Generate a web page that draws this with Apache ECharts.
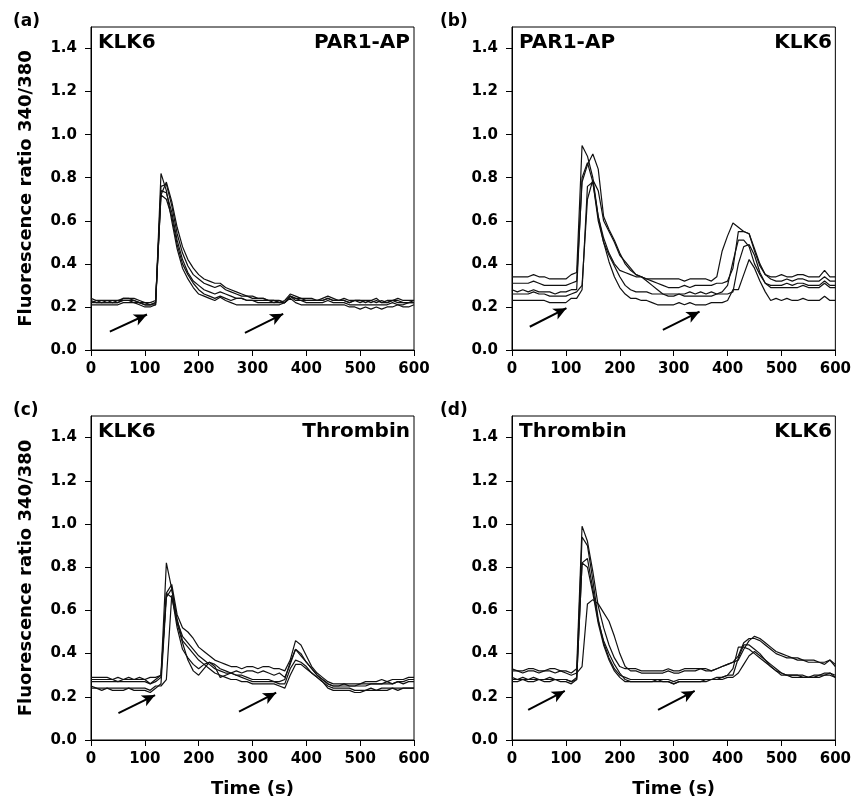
<!DOCTYPE html>
<html>
<head>
<meta charset="utf-8">
<script src="https://cdn.jsdelivr.net/npm/echarts@6/dist/echarts.min.js"></script>
<style>
html,body{margin:0;padding:0;background:#fff;}
#chart{width:854px;height:802px;}
</style>
</head>
<body>
<div id="chart"></div>
<script>
// sampling times (s), one reading every 10 s
var time = [0,10,20,30,40,50,60,70,80,90,
            100,110,120,130,140,150,160,170,180,190,
            200,210,220,230,240,250,260,270,280,290,
            300,310,320,330,340,350,360,370,380,390,
            400,410,420,430,440,450,460,470,480,490,
            500,510,520,530,540,550,560,570,580,590,
            600];
var yTicks = [0,0.2,0.4,0.6,0.8,1.0,1.2,1.4];
var xTicks = [0,100,200,300,400,500,600];

// (a) KLK6 then PAR1-AP
var a1 = [0.21,0.21,0.21,0.21,0.21,0.21,0.22,0.22,0.22,0.21,
          0.20,0.20,0.21,0.82,0.74,0.60,0.47,0.38,0.33,0.29,
          0.26,0.25,0.24,0.23,0.245,0.23,0.22,0.21,0.21,0.21,
          0.21,0.21,0.21,0.21,0.21,0.21,0.22,0.24,0.22,0.21,
          0.21,0.21,0.21,0.21,0.21,0.21,0.21,0.21,0.20,0.20,
          0.19,0.20,0.19,0.20,0.19,0.20,0.20,0.21,0.20,0.20,
          0.21];
var a2 = [0.23,0.22,0.22,0.22,0.22,0.22,0.23,0.23,0.23,0.22,
          0.21,0.21,0.22,0.72,0.78,0.69,0.57,0.48,0.42,0.38,
          0.35,0.33,0.32,0.31,0.31,0.29,0.28,0.27,0.26,0.25,
          0.25,0.24,0.24,0.23,0.23,0.23,0.22,0.25,0.24,0.24,
          0.23,0.23,0.23,0.23,0.24,0.23,0.23,0.23,0.22,0.23,
          0.22,0.23,0.22,0.23,0.22,0.22,0.23,0.22,0.22,0.22,
          0.22];
var a3 = [0.22,0.23,0.22,0.23,0.22,0.22,0.24,0.24,0.23,0.22,
          0.22,0.21,0.22,0.76,0.77,0.67,0.54,0.45,0.39,0.35,
          0.33,0.31,0.30,0.29,0.30,0.28,0.27,0.26,0.25,0.25,
          0.24,0.24,0.24,0.23,0.23,0.22,0.23,0.26,0.25,0.24,
          0.24,0.24,0.23,0.24,0.25,0.24,0.23,0.24,0.23,0.23,
          0.23,0.23,0.23,0.24,0.22,0.23,0.23,0.24,0.23,0.23,
          0.23];
var a4 = [0.22,0.22,0.22,0.22,0.22,0.23,0.23,0.23,0.22,0.22,
          0.21,0.21,0.21,0.74,0.73,0.64,0.51,0.42,0.36,0.32,
          0.30,0.28,0.27,0.26,0.27,0.26,0.25,0.24,0.24,0.23,
          0.23,0.22,0.22,0.22,0.22,0.22,0.22,0.25,0.23,0.23,
          0.22,0.22,0.22,0.22,0.23,0.22,0.22,0.22,0.21,0.21,
          0.21,0.21,0.21,0.21,0.21,0.21,0.22,0.21,0.21,0.22,
          0.22];
var a5 = [0.24,0.23,0.23,0.23,0.23,0.23,0.24,0.24,0.24,0.23,
          0.22,0.22,0.23,0.72,0.70,0.62,0.49,0.40,0.35,0.31,
          0.28,0.26,0.25,0.24,0.25,0.24,0.23,0.24,0.24,0.23,
          0.23,0.23,0.23,0.23,0.22,0.23,0.22,0.25,0.24,0.23,
          0.23,0.23,0.23,0.23,0.24,0.23,0.23,0.23,0.22,0.23,
          0.23,0.22,0.23,0.22,0.23,0.22,0.23,0.23,0.22,0.22,
          0.23];

// (b) PAR1-AP then KLK6
var b1 = [0.34,0.34,0.34,0.34,0.35,0.34,0.34,0.33,0.33,0.33,
          0.33,0.35,0.36,0.95,0.90,0.80,0.62,0.52,0.45,0.40,
          0.37,0.36,0.35,0.34,0.34,0.33,0.33,0.33,0.33,0.33,
          0.33,0.33,0.32,0.33,0.33,0.33,0.33,0.32,0.34,0.46,
          0.53,0.59,0.57,0.55,0.54,0.46,0.39,0.35,0.34,0.34,
          0.35,0.34,0.34,0.35,0.35,0.34,0.34,0.34,0.37,0.34,
          0.34];
var b2 = [0.31,0.31,0.31,0.31,0.32,0.31,0.30,0.30,0.30,0.30,
          0.30,0.31,0.32,0.78,0.86,0.91,0.84,0.62,0.56,0.51,
          0.45,0.40,0.37,0.35,0.34,0.33,0.32,0.31,0.30,0.29,
          0.29,0.29,0.30,0.29,0.30,0.30,0.30,0.30,0.31,0.31,
          0.32,0.38,0.55,0.55,0.54,0.47,0.40,0.35,0.33,0.32,
          0.32,0.33,0.32,0.33,0.33,0.32,0.32,0.32,0.34,0.32,
          0.32];
var b3 = [0.28,0.27,0.28,0.27,0.28,0.27,0.27,0.27,0.26,0.27,
          0.27,0.28,0.28,0.80,0.87,0.78,0.60,0.50,0.44,0.39,
          0.34,0.30,0.28,0.27,0.27,0.27,0.26,0.26,0.26,0.26,
          0.26,0.26,0.26,0.27,0.26,0.27,0.26,0.27,0.26,0.27,
          0.30,0.41,0.51,0.51,0.48,0.40,0.35,0.31,0.30,0.30,
          0.30,0.31,0.30,0.31,0.31,0.30,0.30,0.30,0.32,0.30,
          0.30];
var b4 = [0.26,0.26,0.26,0.26,0.27,0.26,0.26,0.25,0.25,0.25,
          0.25,0.26,0.27,0.30,0.70,0.79,0.74,0.60,0.55,0.50,
          0.44,0.41,0.38,0.35,0.34,0.32,0.30,0.28,0.26,0.25,
          0.25,0.26,0.25,0.25,0.25,0.25,0.25,0.25,0.26,0.26,
          0.26,0.27,0.40,0.48,0.49,0.44,0.36,0.31,0.29,0.29,
          0.29,0.29,0.29,0.29,0.30,0.29,0.29,0.29,0.31,0.29,
          0.29];
var b5 = [0.23,0.23,0.23,0.23,0.23,0.23,0.23,0.22,0.22,0.22,
          0.22,0.24,0.24,0.28,0.76,0.78,0.62,0.50,0.41,0.34,
          0.29,0.26,0.24,0.24,0.23,0.23,0.22,0.21,0.21,0.21,
          0.21,0.22,0.21,0.22,0.21,0.21,0.21,0.22,0.22,0.22,
          0.23,0.28,0.28,0.35,0.42,0.38,0.32,0.27,0.23,0.24,
          0.23,0.24,0.23,0.23,0.24,0.23,0.23,0.23,0.25,0.23,
          0.23];

// (c) KLK6 then Thrombin
var c1 = [0.28,0.28,0.28,0.28,0.28,0.27,0.28,0.28,0.28,0.28,
          0.28,0.26,0.28,0.30,0.82,0.70,0.54,0.45,0.37,0.32,
          0.30,0.33,0.36,0.35,0.33,0.32,0.31,0.30,0.30,0.29,
          0.28,0.28,0.28,0.28,0.27,0.27,0.28,0.36,0.42,0.39,
          0.36,0.33,0.30,0.28,0.26,0.25,0.25,0.25,0.25,0.25,
          0.25,0.25,0.26,0.26,0.26,0.26,0.26,0.27,0.26,0.27,
          0.27];
var c2 = [0.29,0.29,0.29,0.29,0.28,0.29,0.28,0.29,0.28,0.29,
          0.28,0.29,0.29,0.30,0.68,0.72,0.58,0.52,0.50,0.47,
          0.43,0.41,0.39,0.37,0.36,0.35,0.34,0.34,0.33,0.34,
          0.34,0.33,0.34,0.34,0.33,0.33,0.32,0.37,0.46,0.44,
          0.39,0.34,0.31,0.29,0.27,0.26,0.26,0.26,0.26,0.26,
          0.26,0.27,0.27,0.27,0.28,0.27,0.28,0.28,0.28,0.29,
          0.29];
var c3 = [0.27,0.27,0.27,0.27,0.27,0.27,0.27,0.27,0.27,0.27,
          0.27,0.26,0.27,0.29,0.68,0.66,0.55,0.48,0.45,0.42,
          0.39,0.37,0.35,0.33,0.32,0.31,0.31,0.32,0.31,0.32,
          0.32,0.31,0.32,0.31,0.30,0.31,0.29,0.35,0.42,0.40,
          0.36,0.33,0.30,0.28,0.26,0.25,0.25,0.26,0.25,0.25,
          0.26,0.26,0.26,0.26,0.26,0.27,0.26,0.27,0.27,0.28,
          0.28];
var c4 = [0.25,0.24,0.24,0.24,0.24,0.24,0.24,0.24,0.24,0.24,
          0.24,0.23,0.25,0.25,0.28,0.67,0.52,0.42,0.38,0.35,
          0.33,0.35,0.36,0.34,0.29,0.30,0.31,0.30,0.29,0.28,
          0.27,0.27,0.27,0.27,0.27,0.26,0.26,0.33,0.37,0.36,
          0.34,0.31,0.29,0.27,0.25,0.24,0.24,0.24,0.24,0.23,
          0.23,0.23,0.24,0.23,0.24,0.24,0.24,0.24,0.24,0.24,
          0.24];
var c5 = [0.24,0.24,0.23,0.24,0.23,0.23,0.23,0.24,0.23,0.23,
          0.23,0.22,0.24,0.26,0.66,0.70,0.56,0.46,0.43,0.40,
          0.37,0.35,0.33,0.31,0.30,0.29,0.28,0.28,0.27,0.27,
          0.26,0.26,0.26,0.26,0.26,0.25,0.24,0.30,0.35,0.35,
          0.33,0.31,0.29,0.27,0.24,0.23,0.23,0.23,0.23,0.22,
          0.22,0.23,0.23,0.23,0.23,0.23,0.24,0.23,0.24,0.24,
          0.24];

// (d) Thrombin then KLK6
var d1 = [0.33,0.32,0.32,0.33,0.33,0.32,0.32,0.33,0.33,0.32,
          0.32,0.31,0.33,0.99,0.92,0.78,0.62,0.52,0.44,0.38,
          0.34,0.33,0.33,0.33,0.32,0.32,0.32,0.32,0.32,0.33,
          0.32,0.32,0.33,0.33,0.33,0.33,0.33,0.32,0.33,0.34,
          0.35,0.36,0.37,0.42,0.46,0.48,0.47,0.45,0.43,0.41,
          0.40,0.39,0.38,0.38,0.37,0.37,0.37,0.36,0.36,0.37,
          0.35];
var d2 = [0.32,0.32,0.31,0.32,0.32,0.31,0.32,0.32,0.31,0.32,
          0.31,0.30,0.31,0.34,0.63,0.65,0.63,0.59,0.55,0.48,
          0.40,0.34,0.32,0.32,0.31,0.31,0.31,0.31,0.31,0.32,
          0.31,0.31,0.32,0.32,0.32,0.33,0.32,0.32,0.33,0.34,
          0.35,0.36,0.39,0.45,0.47,0.47,0.46,0.44,0.42,0.40,
          0.39,0.38,0.38,0.37,0.37,0.36,0.36,0.36,0.35,0.37,
          0.34];
var d3 = [0.29,0.28,0.29,0.28,0.29,0.28,0.28,0.29,0.28,0.28,
          0.28,0.27,0.29,0.94,0.90,0.74,0.56,0.45,0.38,0.33,
          0.30,0.29,0.28,0.28,0.28,0.28,0.28,0.28,0.28,0.28,
          0.27,0.28,0.28,0.28,0.28,0.28,0.28,0.28,0.29,0.29,
          0.30,0.30,0.38,0.44,0.44,0.42,0.40,0.37,0.35,0.33,
          0.31,0.30,0.30,0.30,0.30,0.29,0.30,0.30,0.31,0.31,
          0.30];
var d4 = [0.28,0.28,0.28,0.28,0.28,0.28,0.28,0.28,0.28,0.28,
          0.28,0.27,0.28,0.82,0.84,0.70,0.55,0.46,0.40,0.35,
          0.31,0.28,0.27,0.27,0.27,0.27,0.27,0.28,0.27,0.27,
          0.26,0.27,0.27,0.27,0.27,0.27,0.28,0.28,0.28,0.29,
          0.30,0.33,0.43,0.43,0.42,0.40,0.38,0.36,0.34,0.32,
          0.31,0.30,0.30,0.30,0.29,0.29,0.29,0.30,0.30,0.31,
          0.29];
var d5 = [0.27,0.27,0.28,0.27,0.27,0.28,0.27,0.27,0.28,0.27,
          0.27,0.26,0.28,0.82,0.80,0.68,0.54,0.44,0.37,0.32,
          0.29,0.27,0.27,0.27,0.27,0.27,0.27,0.27,0.27,0.27,
          0.26,0.27,0.27,0.27,0.27,0.27,0.27,0.28,0.28,0.28,
          0.29,0.29,0.31,0.35,0.39,0.41,0.39,0.37,0.34,0.32,
          0.30,0.30,0.29,0.29,0.29,0.29,0.29,0.29,0.30,0.30,
          0.29];

// stimulus arrows: [fromTime, fromRatio, toTime, toRatio]
var arrowsA = [[35,0.085,104,0.165],[286,0.08,357,0.168]];
var arrowsB = [[33,0.108,101,0.194],[280,0.093,348,0.178]];
var arrowsC = [[51,0.124,119,0.208],[275,0.131,344,0.219]];
var arrowsD = [[30,0.139,98,0.227],[271,0.139,339,0.227]];

var FONT = 'DejaVu Sans';

var panels = [
    {tag:'(a)', left:'KLK6', right:'PAR1-AP', traces:[a1,a2,a3,a4,a5], arrows:arrowsA,
     box:{left:91, top:27, width:323, height:323}, yTitle:true, xTitle:false},
    {tag:'(b)', left:'PAR1-AP', right:'KLK6', traces:[b1,b2,b3,b4,b5], arrows:arrowsB,
     box:{left:512, top:27, width:324, height:323}, yTitle:false, xTitle:false},
    {tag:'(c)', left:'KLK6', right:'Thrombin', traces:[c1,c2,c3,c4,c5], arrows:arrowsC,
     box:{left:91, top:416, width:323, height:324}, yTitle:true, xTitle:true},
    {tag:'(d)', left:'Thrombin', right:'KLK6', traces:[d1,d2,d3,d4,d5], arrows:arrowsD,
     box:{left:512, top:416, width:324, height:324}, yTitle:false, xTitle:true}
];

var grids = [], xAxes = [], yAxes = [], series = [], graphics = [];

panels.forEach(function (p, k) {
    grids.push({left:p.box.left, top:p.box.top, width:p.box.width, height:p.box.height,
        show:true, borderColor:'#000', borderWidth:1, backgroundColor:'transparent'});

    xAxes.push({
        gridIndex:k, type:'value', min:0, max:600, interval:100,
        name: p.xTitle ? 'Time (s)' : '', nameLocation:'middle', nameGap:40,
        nameTextStyle:{fontFamily:FONT, fontWeight:'bold', fontSize:18, color:'#000'},
        axisLine:{lineStyle:{color:'#000', width:1}},
        axisTick:{length:6, lineStyle:{color:'#000'}, customValues:xTicks},
        axisLabel:{fontFamily:FONT, fontWeight:'bold', fontSize:15, color:'#000', margin:12, customValues:xTicks},
        splitLine:{show:false}
    });
    yAxes.push({
        gridIndex:k, type:'value', min:0, max:1.5, interval:0.2,
        name: p.yTitle ? 'Fluorescence ratio 340/380' : '', nameLocation:'middle', nameGap:56,
        nameTextStyle:{fontFamily:FONT, fontWeight:'bold', fontSize:18, color:'#000'},
        axisLine:{show:true, lineStyle:{color:'#000', width:1}},
        axisTick:{show:true, length:6, lineStyle:{color:'#000'}, customValues:yTicks},
        axisLabel:{fontFamily:FONT, fontWeight:'bold', fontSize:15, color:'#000', margin:14,
            customValues:yTicks, formatter:function (v) { return v.toFixed(1); }},
        splitLine:{show:false}
    });

    p.traces.forEach(function (vals, j) {
        var s = {
            type:'line', xAxisIndex:k, yAxisIndex:k,
            data: time.map(function (t, i) { return [t, vals[i]]; }),
            showSymbol:false, symbol:'none', silent:true,
            lineStyle:{color:'#111', width:1.2},
            z:2
        };
        if (j === 0) {
            s.markLine = {
                silent:true, symbol:['none','arrow'], symbolSize:[9,13],
                label:{show:false},
                lineStyle:{color:'#000', width:2, type:'solid'},
                data: p.arrows.map(function (a) {
                    return [{coord:[a[0], a[1]]}, {coord:[a[2], a[3]]}];
                })
            };
        }
        series.push(s);
    });

    var tagX = p.box.left < 200 ? 13 : 440;
    graphics.push({type:'text', left:tagX, top:p.box.top - 14,
        style:{text:p.tag, font:'bold 17px "' + FONT + '"', fill:'#000', verticalAlign:'middle'}});
    graphics.push({type:'text', x:p.box.left + 7, y:p.box.top + 16,
        style:{text:p.left, font:'bold 20px "' + FONT + '"', fill:'#000', textAlign:'left', textVerticalAlign:'middle'}});
    graphics.push({type:'text', x:p.box.left + p.box.width - 4, y:p.box.top + 16,
        style:{text:p.right, font:'bold 20px "' + FONT + '"', fill:'#000', textAlign:'right', textVerticalAlign:'middle'}});
});

var chart = echarts.init(document.getElementById('chart'), null, {renderer:'canvas'});
chart.setOption({
    animation:false,
    backgroundColor:'#fff',
    grid:grids,
    xAxis:xAxes,
    yAxis:yAxes,
    series:series,
    graphic:graphics
});
</script>
</body>
</html>
